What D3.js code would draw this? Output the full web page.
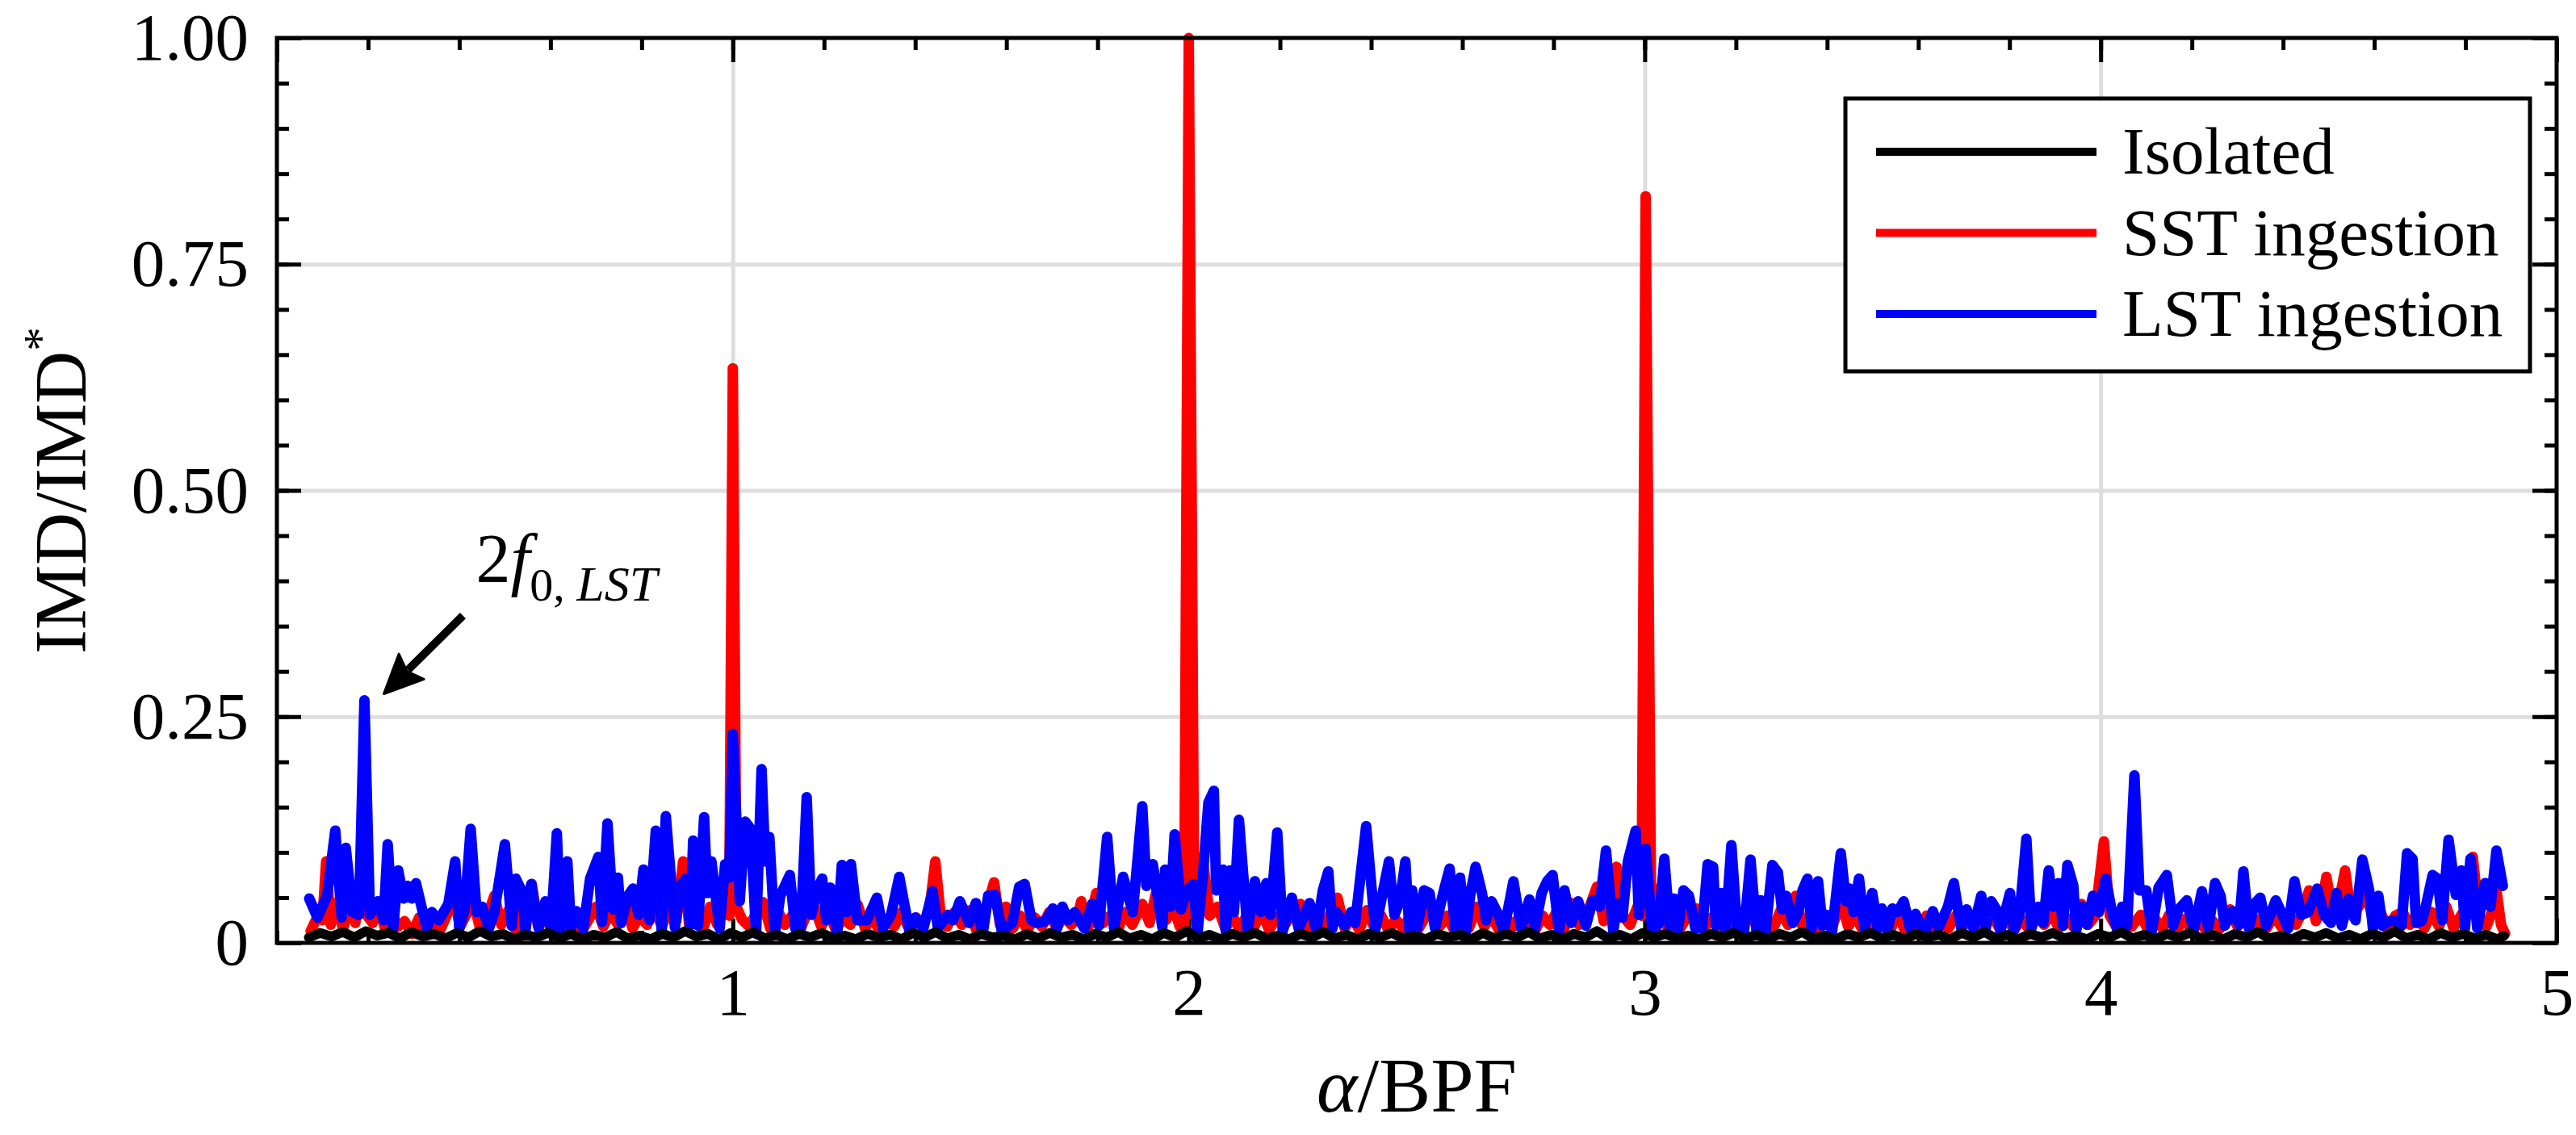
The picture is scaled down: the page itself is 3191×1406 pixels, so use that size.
<!DOCTYPE html>
<html>
<head>
<meta charset="utf-8">
<script src="https://cdn.jsdelivr.net/npm/d3@7"></script>
<style>
    html, body { margin: 0; padding: 0; background: #fff; }
    svg text { font-family: "Liberation Serif", "Times New Roman", serif; fill: #000; }
</style>
</head>
<body>
<svg id="chart" width="3191" height="1406"></svg>
<script>

// series, [alpha/BPF, IMD/IMD*]
let isolated = [
    [0.070,0.006],[0.095,0.011],[0.120,0.007],[0.145,0.012],[0.170,0.006],[0.195,0.013],[0.220,0.008],[0.245,0.011],[0.270,0.005],[0.295,0.012],
    [0.320,0.007],[0.345,0.010],[0.370,0.005],[0.395,0.011],[0.420,0.006],[0.445,0.013],[0.470,0.007],[0.495,0.010],[0.520,0.004],[0.545,0.009],
    [0.570,0.006],[0.595,0.011],[0.620,0.005],[0.645,0.010],[0.670,0.004],[0.695,0.009],[0.720,0.006],[0.745,0.012],[0.770,0.005],[0.795,0.008],
    [0.820,0.004],[0.845,0.010],[0.870,0.006],[0.895,0.013],[0.920,0.007],[0.945,0.010],[0.970,0.004],[0.995,0.011],[1.020,0.006],[1.045,0.012],
    [1.070,0.005],[1.095,0.009],[1.120,0.004],[1.145,0.010],[1.170,0.006],[1.195,0.011],[1.220,0.005],[1.245,0.008],[1.270,0.004],[1.295,0.010],
    [1.320,0.006],[1.345,0.009],[1.370,0.004],[1.395,0.011],[1.420,0.006],[1.445,0.012],[1.470,0.005],[1.495,0.009],[1.520,0.004],[1.545,0.010],
    [1.570,0.006],[1.595,0.008],[1.620,0.004],[1.645,0.010],[1.670,0.005],[1.695,0.011],[1.720,0.006],[1.745,0.009],[1.770,0.004],[1.795,0.010],
    [1.820,0.006],[1.845,0.012],[1.870,0.005],[1.895,0.009],[1.920,0.004],[1.945,0.011],[1.970,0.006],[1.995,0.013],[2.020,0.005],[2.045,0.009],
    [2.070,0.004],[2.095,0.010],[2.120,0.006],[2.145,0.011],[2.170,0.005],[2.195,0.008],[2.220,0.004],[2.245,0.010],[2.270,0.006],[2.295,0.012],
    [2.320,0.005],[2.345,0.009],[2.370,0.004],[2.395,0.010],[2.420,0.006],[2.445,0.011],[2.470,0.005],[2.495,0.008],[2.520,0.004],[2.545,0.010],
    [2.570,0.006],[2.595,0.009],[2.620,0.004],[2.645,0.011],[2.670,0.005],[2.695,0.010],[2.720,0.006],[2.745,0.012],[2.770,0.005],[2.795,0.009],
    [2.820,0.004],[2.845,0.010],[2.870,0.006],[2.895,0.013],[2.920,0.005],[2.945,0.009],[2.970,0.004],[2.995,0.011],[3.020,0.006],[3.045,0.010],
    [3.070,0.005],[3.095,0.008],[3.120,0.004],[3.145,0.010],[3.170,0.006],[3.195,0.011],[3.220,0.005],[3.245,0.009],[3.270,0.004],[3.295,0.010],
    [3.320,0.006],[3.345,0.012],[3.370,0.005],[3.395,0.008],[3.420,0.004],[3.445,0.010],[3.470,0.006],[3.495,0.011],[3.520,0.005],[3.545,0.009],
    [3.570,0.004],[3.595,0.010],[3.620,0.006],[3.645,0.009],[3.670,0.004],[3.695,0.011],[3.720,0.006],[3.745,0.012],[3.770,0.005],[3.795,0.009],
    [3.820,0.004],[3.845,0.010],[3.870,0.006],[3.895,0.011],[3.920,0.005],[3.945,0.008],[3.970,0.004],[3.995,0.010],[4.020,0.006],[4.045,0.012],
    [4.070,0.005],[4.095,0.009],[4.120,0.004],[4.145,0.010],[4.170,0.006],[4.195,0.011],[4.220,0.005],[4.245,0.009],[4.270,0.004],[4.295,0.010],
    [4.320,0.006],[4.345,0.012],[4.370,0.005],[4.395,0.008],[4.420,0.004],[4.445,0.010],[4.470,0.006],[4.495,0.011],[4.520,0.005],[4.545,0.009],
    [4.570,0.004],[4.595,0.010],[4.620,0.006],[4.645,0.013],[4.670,0.005],[4.695,0.009],[4.720,0.004],[4.745,0.011],[4.770,0.006],[4.795,0.010],
    [4.820,0.005],[4.845,0.009],[4.870,0.004],[4.885,0.008]
];

let sstIngestion = [
    [0.074,0.013],[0.090,0.030],[0.100,0.025],[0.108,0.090],[0.118,0.020],[0.132,0.045],[0.145,0.015],[0.160,0.048],[0.172,0.022],[0.186,0.066],
    [0.198,0.030],[0.210,0.022],[0.224,0.040],[0.238,0.014],[0.252,0.032],[0.266,0.018],[0.280,0.024],[0.296,0.010],[0.312,0.028],[0.326,0.012],
    [0.342,0.024],[0.358,0.014],[0.372,0.030],[0.388,0.050],[0.402,0.018],[0.418,0.034],[0.432,0.044],[0.446,0.015],[0.462,0.030],[0.477,0.052],
    [0.492,0.020],[0.508,0.036],[0.524,0.014],[0.540,0.040],[0.559,0.065],[0.572,0.020],[0.588,0.030],[0.604,0.012],[0.620,0.038],[0.636,0.016],
    [0.652,0.030],[0.668,0.012],[0.684,0.026],[0.700,0.040],[0.716,0.018],[0.732,0.034],[0.748,0.020],[0.764,0.044],[0.780,0.016],[0.796,0.030],
    [0.812,0.020],[0.828,0.040],[0.844,0.018],[0.860,0.036],[0.876,0.024],[0.891,0.090],[0.904,0.020],[0.918,0.034],[0.934,0.014],[0.950,0.040],
    [0.966,0.020],[0.980,0.050],[0.992,0.030],[1.000,0.635],[1.008,0.040],[1.020,0.026],[1.036,0.018],[1.052,0.034],[1.066,0.045],[1.082,0.016],
    [1.098,0.036],[1.114,0.020],[1.130,0.030],[1.146,0.012],[1.162,0.032],[1.178,0.040],[1.194,0.018],[1.210,0.034],[1.226,0.014],[1.242,0.028],
    [1.258,0.020],[1.274,0.042],[1.290,0.016],[1.306,0.030],[1.322,0.012],[1.338,0.026],[1.354,0.018],[1.370,0.034],[1.386,0.016],[1.402,0.028],
    [1.418,0.020],[1.432,0.040],[1.444,0.090],[1.456,0.030],[1.470,0.018],[1.486,0.034],[1.502,0.020],[1.518,0.036],[1.534,0.014],[1.550,0.030],
    [1.562,0.048],[1.573,0.067],[1.586,0.020],[1.599,0.040],[1.614,0.016],[1.630,0.030],[1.646,0.014],[1.662,0.028],[1.678,0.018],[1.694,0.034],
    [1.710,0.016],[1.726,0.030],[1.742,0.020],[1.756,0.028],[1.764,0.046],[1.780,0.018],[1.797,0.055],[1.812,0.022],[1.828,0.030],[1.844,0.014],
    [1.860,0.034],[1.876,0.020],[1.898,0.043],[1.914,0.022],[1.933,0.067],[1.950,0.025],[1.966,0.040],[1.980,0.018],[1.990,0.020],[2.000,1.000],
    [2.012,0.030],[2.030,0.095],[2.046,0.030],[2.063,0.040],[2.080,0.016],[2.096,0.030],[2.112,0.014],[2.128,0.032],[2.144,0.018],[2.160,0.036],
    [2.176,0.014],[2.192,0.028],[2.208,0.018],[2.224,0.030],[2.245,0.043],[2.262,0.016],[2.278,0.030],[2.294,0.014],[2.310,0.032],[2.326,0.050],
    [2.342,0.016],[2.358,0.030],[2.374,0.014],[2.390,0.036],[2.406,0.018],[2.422,0.030],[2.438,0.014],[2.454,0.026],[2.470,0.016],[2.486,0.030],
    [2.502,0.014],[2.518,0.028],[2.534,0.043],[2.550,0.018],[2.566,0.030],[2.582,0.014],[2.598,0.026],[2.614,0.016],[2.632,0.040],[2.648,0.018],
    [2.664,0.030],[2.680,0.014],[2.696,0.028],[2.712,0.018],[2.728,0.032],[2.744,0.024],[2.760,0.014],[2.776,0.030],[2.792,0.020],[2.808,0.036],
    [2.824,0.016],[2.840,0.044],[2.856,0.020],[2.872,0.030],[2.895,0.062],[2.910,0.024],[2.924,0.040],[2.938,0.084],[2.952,0.030],[2.968,0.020],
    [2.984,0.040],[2.993,0.030],[3.002,0.825],[3.014,0.040],[3.030,0.060],[3.046,0.020],[3.062,0.034],[3.078,0.016],[3.094,0.030],[3.114,0.038],
    [3.130,0.016],[3.146,0.028],[3.162,0.014],[3.178,0.026],[3.194,0.018],[3.210,0.030],[3.235,0.028],[3.250,0.014],[3.266,0.026],[3.282,0.016],
    [3.298,0.036],[3.314,0.020],[3.331,0.052],[3.346,0.018],[3.362,0.030],[3.378,0.014],[3.394,0.028],[3.410,0.016],[3.431,0.046],[3.446,0.018],
    [3.462,0.030],[3.478,0.014],[3.494,0.026],[3.510,0.016],[3.526,0.030],[3.542,0.018],[3.555,0.034],[3.570,0.014],[3.586,0.026],[3.602,0.016],
    [3.618,0.030],[3.634,0.014],[3.650,0.024],[3.666,0.016],[3.682,0.030],[3.698,0.018],[3.714,0.028],[3.730,0.014],[3.746,0.026],[3.762,0.030],
    [3.778,0.016],[3.794,0.028],[3.810,0.014],[3.826,0.026],[3.842,0.016],[3.860,0.030],[3.876,0.020],[3.892,0.034],[3.908,0.016],[3.924,0.028],
    [3.940,0.018],[3.958,0.043],[3.972,0.020],[3.988,0.030],[4.007,0.112],[4.020,0.030],[4.036,0.016],[4.052,0.028],[4.068,0.018],[4.088,0.031],
    [4.104,0.014],[4.120,0.026],[4.136,0.016],[4.150,0.031],[4.166,0.014],[4.182,0.026],[4.198,0.016],[4.214,0.028],[4.230,0.014],[4.246,0.024],
    [4.262,0.016],[4.284,0.037],[4.300,0.018],[4.316,0.028],[4.332,0.014],[4.348,0.026],[4.364,0.016],[4.380,0.030],[4.396,0.018],[4.412,0.030],
    [4.428,0.020],[4.444,0.036],[4.457,0.058],[4.472,0.024],[4.484,0.040],[4.495,0.073],[4.510,0.030],[4.522,0.044],[4.536,0.080],[4.550,0.030],
    [4.566,0.040],[4.584,0.055],[4.598,0.022],[4.614,0.034],[4.630,0.014],[4.646,0.030],[4.662,0.034],[4.678,0.020],[4.694,0.030],[4.710,0.016],
    [4.726,0.034],[4.742,0.018],[4.758,0.040],[4.774,0.016],[4.790,0.030],[4.804,0.040],[4.816,0.095],[4.830,0.030],[4.846,0.018],[4.858,0.034],
    [4.869,0.055],[4.878,0.020],[4.887,0.010]
];

let lstIngestion = [
    [0.071,0.049],[0.089,0.028],[0.110,0.052],[0.128,0.124],[0.142,0.028],[0.151,0.105],[0.166,0.034],[0.180,0.031],[0.192,0.268],[0.204,0.031],
    [0.222,0.046],[0.234,0.025],[0.243,0.109],[0.255,0.016],[0.266,0.080],[0.278,0.049],[0.287,0.063],[0.296,0.049],[0.305,0.066],[0.320,0.034],
    [0.329,0.016],[0.340,0.034],[0.355,0.025],[0.376,0.043],[0.391,0.090],[0.400,0.016],[0.412,0.037],[0.425,0.126],[0.438,0.034],[0.450,0.040],
    [0.465,0.016],[0.477,0.034],[0.500,0.109],[0.515,0.019],[0.524,0.071],[0.539,0.055],[0.545,0.013],[0.558,0.065],[0.574,0.016],[0.589,0.046],
    [0.601,0.016],[0.614,0.121],[0.622,0.016],[0.637,0.090],[0.645,0.016],[0.657,0.035],[0.672,0.016],[0.687,0.071],[0.705,0.095],[0.713,0.023],
    [0.725,0.132],[0.737,0.037],[0.748,0.072],[0.755,0.022],[0.770,0.052],[0.781,0.060],[0.793,0.031],[0.804,0.081],[0.817,0.025],[0.831,0.124],
    [0.844,0.013],[0.853,0.140],[0.873,0.017],[0.885,0.063],[0.897,0.071],[0.906,0.019],[0.913,0.113],[0.924,0.019],[0.937,0.139],[0.944,0.055],
    [0.953,0.090],[0.971,0.016],[0.983,0.087],[0.992,0.072],[1.000,0.231],[1.015,0.046],[1.027,0.134],[1.039,0.126],[1.051,0.010],[1.063,0.192],
    [1.071,0.090],[1.080,0.117],[1.092,0.010],[1.104,0.052],[1.125,0.075],[1.137,0.016],[1.149,0.016],[1.162,0.161],[1.172,0.031],[1.184,0.058],
    [1.196,0.071],[1.205,0.025],[1.214,0.061],[1.229,0.010],[1.239,0.086],[1.249,0.034],[1.259,0.087],[1.273,0.025],[1.294,0.025],[1.316,0.050],
    [1.329,0.016],[1.347,0.031],[1.365,0.073],[1.376,0.043],[1.388,0.012],[1.400,0.028],[1.418,0.016],[1.438,0.057],[1.450,0.016],[1.471,0.031],
    [1.483,0.025],[1.498,0.046],[1.518,0.022],[1.533,0.044],[1.548,0.010],[1.560,0.052],[1.575,0.053],[1.590,0.013],[1.613,0.022],[1.628,0.062],
    [1.640,0.065],[1.655,0.025],[1.667,0.022],[1.685,0.024],[1.702,0.038],[1.711,0.016],[1.723,0.040],[1.735,0.025],[1.750,0.034],[1.771,0.016],
    [1.788,0.043],[1.803,0.019],[1.821,0.117],[1.836,0.016],[1.856,0.073],[1.877,0.034],[1.883,0.066],[1.898,0.151],[1.907,0.063],[1.921,0.087],
    [1.942,0.017],[1.948,0.081],[1.960,0.040],[1.969,0.120],[1.983,0.037],[1.995,0.058],[2.010,0.065],[2.019,0.010],[2.031,0.075],[2.043,0.155],
    [2.055,0.168],[2.060,0.058],[2.075,0.081],[2.081,0.013],[2.090,0.080],[2.099,0.034],[2.110,0.136],[2.129,0.013],[2.145,0.068],[2.158,0.034],
    [2.170,0.066],[2.179,0.031],[2.194,0.122],[2.206,0.013],[2.226,0.050],[2.241,0.016],[2.265,0.044],[2.280,0.013],[2.294,0.058],[2.306,0.079],
    [2.315,0.016],[2.324,0.034],[2.342,0.019],[2.356,0.034],[2.365,0.022],[2.389,0.129],[2.409,0.014],[2.439,0.090],[2.451,0.031],[2.463,0.046],
    [2.475,0.090],[2.484,0.013],[2.490,0.058],[2.501,0.016],[2.516,0.058],[2.528,0.055],[2.540,0.016],[2.558,0.055],[2.572,0.082],[2.584,0.016],
    [2.595,0.072],[2.608,0.013],[2.617,0.052],[2.629,0.084],[2.643,0.055],[2.652,0.025],[2.664,0.046],[2.679,0.031],[2.691,0.013],[2.712,0.068],
    [2.729,0.016],[2.747,0.048],[2.759,0.016],[2.774,0.055],[2.786,0.068],[2.798,0.075],[2.812,0.013],[2.824,0.058],[2.839,0.022],[2.854,0.046],
    [2.871,0.019],[2.886,0.047],[2.901,0.040],[2.915,0.102],[2.931,0.013],[2.940,0.043],[2.951,0.028],[2.963,0.090],[2.980,0.124],[2.987,0.031],
    [3.002,0.104],[3.017,0.010],[3.031,0.022],[3.043,0.093],[3.055,0.016],[3.064,0.049],[3.073,0.016],[3.085,0.058],[3.097,0.052],[3.111,0.016],
    [3.126,0.016],[3.138,0.087],[3.150,0.084],[3.156,0.019],[3.168,0.055],[3.177,0.013],[3.190,0.108],[3.203,0.013],[3.218,0.013],[3.232,0.092],
    [3.245,0.013],[3.254,0.047],[3.265,0.013],[3.280,0.086],[3.292,0.078],[3.301,0.037],[3.310,0.052],[3.325,0.022],[3.337,0.034],[3.346,0.058],
    [3.357,0.071],[3.366,0.016],[3.380,0.068],[3.390,0.019],[3.399,0.031],[3.411,0.013],[3.430,0.099],[3.441,0.046],[3.449,0.060],[3.458,0.034],
    [3.470,0.071],[3.482,0.016],[3.499,0.055],[3.511,0.016],[3.520,0.038],[3.532,0.013],[3.543,0.038],[3.555,0.034],[3.568,0.046],[3.582,0.016],
    [3.594,0.032],[3.606,0.019],[3.618,0.016],[3.632,0.035],[3.644,0.016],[3.665,0.040],[3.678,0.066],[3.694,0.016],[3.706,0.037],[3.721,0.016],
    [3.738,0.052],[3.748,0.016],[3.760,0.046],[3.771,0.037],[3.780,0.013],[3.801,0.055],[3.810,0.014],[3.822,0.031],[3.837,0.115],[3.848,0.016],
    [3.863,0.040],[3.874,0.022],[3.886,0.080],[3.896,0.040],[3.908,0.066],[3.917,0.019],[3.927,0.086],[3.940,0.063],[3.946,0.013],[3.958,0.040],
    [3.970,0.020],[3.983,0.052],[3.996,0.034],[4.011,0.071],[4.026,0.031],[4.038,0.013],[4.047,0.040],[4.058,0.019],[4.074,0.185],[4.085,0.058],
    [4.100,0.058],[4.112,0.013],[4.127,0.061],[4.145,0.075],[4.159,0.019],[4.171,0.037],[4.189,0.047],[4.204,0.013],[4.222,0.057],[4.236,0.016],
    [4.251,0.066],[4.263,0.052],[4.272,0.019],[4.289,0.035],[4.304,0.020],[4.313,0.079],[4.325,0.016],[4.337,0.043],[4.350,0.050],[4.363,0.019],
    [4.384,0.047],[4.396,0.034],[4.411,0.016],[4.425,0.068],[4.440,0.031],[4.455,0.034],[4.475,0.060],[4.490,0.031],[4.505,0.022],[4.517,0.055],
    [4.529,0.019],[4.544,0.049],[4.559,0.025],[4.574,0.092],[4.589,0.058],[4.597,0.016],[4.609,0.052],[4.618,0.019],[4.633,0.024],[4.645,0.025],
    [4.660,0.019],[4.672,0.099],[4.684,0.093],[4.692,0.022],[4.704,0.024],[4.713,0.040],[4.728,0.075],[4.739,0.071],[4.749,0.025],[4.763,0.114],
    [4.779,0.053],[4.791,0.080],[4.799,0.016],[4.811,0.093],[4.826,0.016],[4.843,0.066],[4.855,0.040],[4.868,0.102],[4.882,0.063]
];

let seriesNames = ["Isolated", "SST ingestion", "LST ingestion"];

let xTicks = [1, 2, 3, 4, 5];
let xTickLabels = ["1", "2", "3", "4", "5"];
let yTicks = [0, 0.25, 0.5, 0.75, 1];
let yTickLabels = ["0", "0.25", "0.50", "0.75", "1.00"];

// peak that gets the arrow
let annotatedPeak = [0.192, 0.268];


class SpectrumVis {

    constructor(parentElement){
        this.parentElement = parentElement;
        this.initVis();
    }

    initVis(){
        let vis = this;

        vis.margin = {top: 47, right: 24, bottom: 238, left: 343};
        vis.width = 3191 - vis.margin.left - vis.margin.right;
        vis.height = 1406 - vis.margin.top - vis.margin.bottom;

        vis.svg = d3.select("#" + vis.parentElement);
        vis.g = vis.svg.append("g")
            .attr("transform", `translate(${vis.margin.left},${vis.margin.top})`);

        vis.x = d3.scaleLinear().domain([0, 5]).range([0, vis.width]);
        vis.y = d3.scaleLinear().domain([0, 1]).range([vis.height, 0]);

        // grid first, so everything sits above it
        vis.g.append("g")
            .attr("class", "grid-x")
            .attr("transform", `translate(0,${vis.height})`)
            .call(d3.axisBottom(vis.x).tickValues([1, 2, 3, 4]).tickSize(-vis.height).tickFormat(""))
            .call(g => g.select(".domain").remove())
            .selectAll("line").attr("stroke", "#dedede").attr("stroke-width", 5);

        vis.g.append("g")
            .attr("class", "grid-y")
            .call(d3.axisLeft(vis.y).tickValues([0.25, 0.5, 0.75]).tickSize(-vis.width).tickFormat(""))
            .call(g => g.select(".domain").remove())
            .selectAll("line").attr("stroke", "#dedede").attr("stroke-width", 5);

        vis.drawAxes();
        vis.wrangleData();
    }

    drawAxes(){
        let vis = this;

        let minorX = d3.range(0, 5.001, 0.2);
        let minorY = d3.range(0, 1.001, 0.05);

        let styleTicks = g => {
            g.select(".domain").remove();
            g.selectAll("line").attr("stroke", "#000").attr("stroke-width", 5);
        };

        // bottom
        vis.g.append("g")
            .attr("transform", `translate(0,${vis.height})`)
            .call(d3.axisBottom(vis.x).tickValues(minorX).tickSize(-15).tickFormat(""))
            .call(styleTicks);
        vis.xAxis = vis.g.append("g")
            .attr("transform", `translate(0,${vis.height})`)
            .call(d3.axisBottom(vis.x).tickValues(xTicks).tickSize(-30).tickPadding(30)
                .tickFormat((d, i) => xTickLabels[i]))
            .call(styleTicks);
        vis.xAxis.selectAll("text").attr("font-size", 83).attr("font-family", "Liberation Serif");

        // top
        vis.g.append("g")
            .call(d3.axisTop(vis.x).tickValues(minorX).tickSize(-15).tickFormat(""))
            .call(styleTicks);
        vis.g.append("g")
            .call(d3.axisTop(vis.x).tickValues([0, 1, 2, 3, 4, 5]).tickSize(-30).tickFormat(""))
            .call(styleTicks);

        // left
        vis.g.append("g")
            .call(d3.axisLeft(vis.y).tickValues(minorY).tickSize(-15).tickFormat(""))
            .call(styleTicks);
        vis.yAxis = vis.g.append("g")
            .call(d3.axisLeft(vis.y).tickValues(yTicks).tickSize(-30).tickPadding(35)
                .tickFormat((d, i) => yTickLabels[i]))
            .call(styleTicks);
        vis.yAxis.selectAll("text").attr("font-size", 83).attr("font-family", "Liberation Serif");

        // right
        vis.g.append("g")
            .attr("transform", `translate(${vis.width},0)`)
            .call(d3.axisRight(vis.y).tickValues(minorY).tickSize(-15).tickFormat(""))
            .call(styleTicks);
        vis.g.append("g")
            .attr("transform", `translate(${vis.width},0)`)
            .call(d3.axisRight(vis.y).tickValues(yTicks).tickSize(-30).tickFormat(""))
            .call(styleTicks);

        // axis titles
        vis.svg.append("text")
            .attr("x", vis.margin.left + vis.width / 2)
            .attr("y", 1377)
            .attr("text-anchor", "middle")
            .attr("font-size", 96)
            .call(t => {
                t.append("tspan").attr("font-style", "italic").text("α");
                t.append("tspan").text("/BPF");
            });

        vis.svg.append("text")
            .attr("transform", `translate(106,${vis.margin.top + vis.height / 2}) rotate(-90)`)
            .attr("text-anchor", "middle")
            .attr("font-size", 90)
            .call(t => {
                t.append("tspan").text("IMD/IMD");
                t.append("tspan").attr("font-size", 60).attr("dy", -36).text("*");
            });
    }

    wrangleData(){
        let vis = this;

        // drawing order: red under blue, black on top
        vis.series = [
            {name: seriesNames[1], values: sstIngestion, color: "#ff0000", width: 13},
            {name: seriesNames[2], values: lstIngestion, color: "#0000ff", width: 13},
            {name: seriesNames[0], values: isolated, color: "#000000", width: 12}
        ];

        vis.updateVis();
    }

    updateVis(){
        let vis = this;

        let line = d3.line()
            .x(d => vis.x(d[0]))
            .y(d => vis.y(d[1]));

        vis.g.append("g").attr("class", "lines")
            .selectAll("path")
            .data(vis.series)
            .enter().append("path")
            .attr("d", d => line(d.values))
            .attr("fill", "none")
            .attr("stroke", d => d.color)
            .attr("stroke-width", d => d.width)
            .attr("stroke-linejoin", "round")
            .attr("stroke-linecap", "round");

        // frame
        vis.g.append("rect")
            .attr("width", vis.width)
            .attr("height", vis.height)
            .attr("fill", "none")
            .attr("stroke", "#000")
            .attr("stroke-width", 5);

        vis.drawLegend();
        vis.drawAnnotation();
    }

    drawLegend(){
        let vis = this;

        let legendOrder = [
            {name: seriesNames[0], color: "#000000"},
            {name: seriesNames[1], color: "#ff0000"},
            {name: seriesNames[2], color: "#0000ff"}
        ];

        let legend = vis.svg.append("g").attr("class", "legend")
            .attr("transform", "translate(2286,122)");

        legend.append("rect")
            .attr("width", 848)
            .attr("height", 338)
            .attr("fill", "#fff")
            .attr("stroke", "#000")
            .attr("stroke-width", 5);

        let rows = legend.selectAll(".row")
            .data(legendOrder)
            .enter().append("g")
            .attr("class", "row")
            .attr("transform", (d, i) => `translate(0,${66 + i * 100.5})`);

        rows.append("line")
            .attr("x1", 38).attr("x2", 311)
            .attr("stroke", d => d.color)
            .attr("stroke-width", 10);

        rows.append("text")
            .attr("x", 343)
            .attr("y", 27)
            .attr("font-size", 83)
            .text(d => d.name);
    }

    drawAnnotation(){
        let vis = this;

        let tip = [vis.x(annotatedPeak[0]) + 24, vis.y(annotatedPeak[1]) - 8];
        let tail = [tip[0] + 98, tip[1] - 97];

        let dx = tip[0] - tail[0], dy = tip[1] - tail[1];
        let len = Math.sqrt(dx * dx + dy * dy);
        let ux = dx / len, uy = dy / len;
        let headLen = 48, headHalf = 22;
        let base = [tip[0] - ux * headLen, tip[1] - uy * headLen];

        let ann = vis.g.append("g").attr("class", "annotation");

        ann.append("line")
            .attr("x1", tail[0]).attr("y1", tail[1])
            .attr("x2", base[0] + ux * 6).attr("y2", base[1] + uy * 6)
            .attr("stroke", "#000")
            .attr("stroke-width", 10);

        ann.append("path")
            .attr("d", d3.line()([
                tip,
                [base[0] - uy * headHalf, base[1] + ux * headHalf],
                [base[0] + ux * 8, base[1] + uy * 8],
                [base[0] + uy * headHalf, base[1] - ux * headHalf]
            ]) + "Z")
            .attr("fill", "#000")
            .attr("stroke", "#000")
            .attr("stroke-width", 3)
            .attr("stroke-linejoin", "round");

        // "2f" sits ~40px above the arrow tail, subscript 23px lower
        let label = ann.append("text")
            .attr("x", tail[0] + 16)
            .attr("y", tail[1] - 42)
            .attr("font-size", 86);
        label.append("tspan").text("2");
        label.append("tspan").attr("font-style", "italic").text("f");
        label.append("tspan").attr("font-size", 58).attr("dy", 23).text("0, ");
        label.append("tspan").attr("font-size", 62).attr("font-style", "italic").text("LST");
    }
}

new SpectrumVis("chart");

</script>
</body>
</html>
